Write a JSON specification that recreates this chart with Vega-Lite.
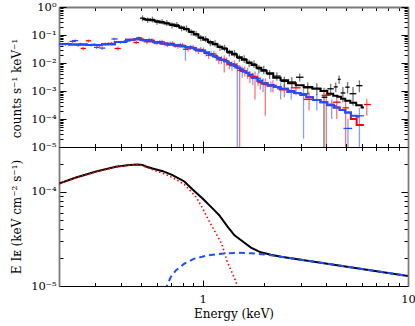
{
"$schema":"https://vega.github.io/schema/vega-lite/v6.json",
"padding":{"left":9,"top":1,"right":8,"bottom":12},
"config":{"view":{"stroke":null},"axis":{"grid":false,"labelFont":"DejaVu Serif","titleFont":"DejaVu Serif","labelFontSize":11.5,"titleFontSize":12,"titleFontWeight":"normal","labelColor":"#000","titleColor":"#000","labelFlush":false,"labelOverlap":false,"labelBound":false,"tickColor":"#000","tickWidth":1,"domainColor":"#7a7a7a","domainWidth":1.8}},
"datasets":{
"obs":[
{"s":"k","e":0.51,"el":0.496,"eh":0.524,"v":0.40,"vl":0.31,"vh":0.50},
{"s":"k","e":0.54,"el":0.525,"eh":0.555,"v":0.34,"vl":0.27,"vh":0.42},
{"s":"k","e":0.57,"el":0.555,"eh":0.585,"v":0.36,"vl":0.28,"vh":0.45},
{"s":"k","e":0.60,"el":0.585,"eh":0.617,"v":0.29,"vl":0.23,"vh":0.36},
{"s":"k","e":0.635,"el":0.617,"eh":0.652,"v":0.30,"vl":0.24,"vh":0.37},
{"s":"k","e":0.67,"el":0.652,"eh":0.69,"v":0.27,"vl":0.21,"vh":0.34},
{"s":"k","e":0.71,"el":0.69,"eh":0.73,"v":0.22,"vl":0.17,"vh":0.28},
{"s":"k","e":0.75,"el":0.73,"eh":0.77,"v":0.23,"vl":0.18,"vh":0.29},
{"s":"k","e":0.79,"el":0.77,"eh":0.812,"v":0.175,"vl":0.135,"vh":0.22},
{"s":"k","e":0.835,"el":0.812,"eh":0.857,"v":0.17,"vl":0.13,"vh":0.22},
{"s":"k","e":0.88,"el":0.857,"eh":0.905,"v":0.125,"vl":0.095,"vh":0.16},
{"s":"k","e":0.93,"el":0.905,"eh":0.955,"v":0.11,"vl":0.085,"vh":0.14},
{"s":"k","e":0.98,"el":0.955,"eh":1.007,"v":0.078,"vl":0.060,"vh":0.10},
{"s":"k","e":1.035,"el":1.007,"eh":1.062,"v":0.072,"vl":0.055,"vh":0.092},
{"s":"k","e":1.09,"el":1.062,"eh":1.12,"v":0.052,"vl":0.040,"vh":0.067},
{"s":"k","e":1.15,"el":1.12,"eh":1.182,"v":0.050,"vl":0.038,"vh":0.065},
{"s":"k","e":1.215,"el":1.182,"eh":1.247,"v":0.036,"vl":0.027,"vh":0.047},
{"s":"k","e":1.28,"el":1.247,"eh":1.315,"v":0.034,"vl":0.026,"vh":0.045},
{"s":"k","e":1.35,"el":1.315,"eh":1.39,"v":0.023,"vl":0.017,"vh":0.030},
{"s":"k","e":1.43,"el":1.39,"eh":1.47,"v":0.022,"vl":0.016,"vh":0.029},
{"s":"k","e":1.51,"el":1.47,"eh":1.552,"v":0.015,"vl":0.011,"vh":0.020},
{"s":"k","e":1.595,"el":1.552,"eh":1.64,"v":0.014,"vl":0.010,"vh":0.019},
{"s":"k","e":1.685,"el":1.64,"eh":1.732,"v":0.0098,"vl":0.0070,"vh":0.013},
{"s":"k","e":1.78,"el":1.732,"eh":1.83,"v":0.0092,"vl":0.0066,"vh":0.0125},
{"s":"k","e":1.88,"el":1.83,"eh":1.932,"v":0.0062,"vl":0.0043,"vh":0.0085},
{"s":"k","e":1.985,"el":1.932,"eh":2.05,"v":0.0058,"vl":0.0040,"vh":0.0080},
{"s":"k","e":2.12,"el":2.05,"eh":2.2,"v":0.0040,"vl":0.0027,"vh":0.0056},
{"s":"k","e":2.3,"el":2.2,"eh":2.4,"v":0.0034,"vl":0.0023,"vh":0.0047},
{"s":"k","e":2.5,"el":2.4,"eh":2.6,"v":0.0022,"vl":0.0014,"vh":0.0032},
{"s":"k","e":2.72,"el":2.6,"eh":2.85,"v":0.0021,"vl":0.0013,"vh":0.0031},
{"s":"k","e":2.97,"el":2.85,"eh":3.1,"v":0.0031,"vl":0.0022,"vh":0.0042},
{"s":"k","e":3.25,"el":3.1,"eh":3.4,"v":0.0013,"vl":0.0008,"vh":0.0020},
{"s":"k","e":3.6,"el":3.4,"eh":3.8,"v":0.0012,"vl":0.0007,"vh":0.0019},
{"s":"k","e":3.9,"el":3.8,"eh":4.05,"v":0.0006,"vl":0.000005,"vh":0.0013},
{"s":"k","e":4.2,"el":4.05,"eh":4.35,"v":0.0012,"vl":0.0007,"vh":0.0018},
{"s":"k","e":4.45,"el":4.35,"eh":4.55,"v":0.0014,"vl":0.0009,"vh":0.0020},
{"s":"k","e":4.62,"el":4.55,"eh":4.7,"v":0.0026,"vl":0.0018,"vh":0.0036},
{"s":"k","e":4.82,"el":4.7,"eh":4.95,"v":0.00085,"vl":0.0004,"vh":0.0014},
{"s":"k","e":5.08,"el":4.95,"eh":5.2,"v":0.00137,"vl":0.0008,"vh":0.0021},
{"s":"k","e":5.4,"el":5.2,"eh":5.6,"v":0.0008,"vl":0.0003,"vh":0.0014},
{"s":"k","e":5.8,"el":5.6,"eh":6.0,"v":0.00155,"vl":0.0009,"vh":0.0024},
{"s":"r","e":0.215,"el":0.205,"eh":0.225,"v":0.047,"vl":0.041,"vh":0.053},
{"s":"r","e":0.233,"el":0.225,"eh":0.241,"v":0.059,"vl":0.052,"vh":0.067},
{"s":"r","e":0.248,"el":0.241,"eh":0.255,"v":0.044,"vl":0.038,"vh":0.050},
{"s":"r","e":0.262,"el":0.255,"eh":0.27,"v":0.033,"vl":0.028,"vh":0.038},
{"s":"r","e":0.278,"el":0.27,"eh":0.287,"v":0.062,"vl":0.054,"vh":0.070},
{"s":"r","e":0.296,"el":0.287,"eh":0.305,"v":0.046,"vl":0.040,"vh":0.052},
{"s":"r","e":0.315,"el":0.305,"eh":0.325,"v":0.042,"vl":0.036,"vh":0.048},
{"s":"r","e":0.336,"el":0.325,"eh":0.347,"v":0.047,"vl":0.041,"vh":0.054},
{"s":"r","e":0.36,"el":0.347,"eh":0.373,"v":0.050,"vl":0.043,"vh":0.057},
{"s":"r","e":0.387,"el":0.373,"eh":0.40,"v":0.033,"vl":0.028,"vh":0.039},
{"s":"r","e":0.415,"el":0.40,"eh":0.43,"v":0.058,"vl":0.050,"vh":0.066},
{"s":"r","e":0.445,"el":0.43,"eh":0.46,"v":0.066,"vl":0.058,"vh":0.075},
{"s":"r","e":0.475,"el":0.46,"eh":0.49,"v":0.054,"vl":0.047,"vh":0.062},
{"s":"r","e":0.505,"el":0.49,"eh":0.52,"v":0.072,"vl":0.060,"vh":0.085},
{"s":"r","e":0.535,"el":0.52,"eh":0.551,"v":0.058,"vl":0.048,"vh":0.069},
{"s":"r","e":0.567,"el":0.551,"eh":0.584,"v":0.066,"vl":0.055,"vh":0.078},
{"s":"r","e":0.60,"el":0.584,"eh":0.618,"v":0.052,"vl":0.043,"vh":0.062},
{"s":"r","e":0.636,"el":0.618,"eh":0.655,"v":0.057,"vl":0.047,"vh":0.068},
{"s":"r","e":0.674,"el":0.655,"eh":0.694,"v":0.045,"vl":0.037,"vh":0.054},
{"s":"r","e":0.714,"el":0.694,"eh":0.735,"v":0.050,"vl":0.041,"vh":0.060},
{"s":"r","e":0.757,"el":0.735,"eh":0.779,"v":0.040,"vl":0.032,"vh":0.049},
{"s":"r","e":0.80,"el":0.779,"eh":0.825,"v":0.043,"vl":0.035,"vh":0.052},
{"s":"r","e":0.85,"el":0.825,"eh":0.875,"v":0.032,"vl":0.025,"vh":0.040},
{"s":"r","e":0.90,"el":0.875,"eh":0.927,"v":0.036,"vl":0.029,"vh":0.044},
{"s":"r","e":0.955,"el":0.927,"eh":0.983,"v":0.027,"vl":0.021,"vh":0.034},
{"s":"r","e":1.01,"el":0.983,"eh":1.04,"v":0.029,"vl":0.023,"vh":0.036},
{"s":"r","e":1.07,"el":1.04,"eh":1.102,"v":0.019,"vl":0.014,"vh":0.025},
{"s":"r","e":1.135,"el":1.102,"eh":1.168,"v":0.021,"vl":0.016,"vh":0.027},
{"s":"r","e":1.20,"el":1.168,"eh":1.237,"v":0.013,"vl":0.009,"vh":0.018},
{"s":"r","e":1.275,"el":1.237,"eh":1.312,"v":0.0135,"vl":0.0046,"vh":0.019},
{"s":"r","e":1.35,"el":1.312,"eh":1.39,"v":0.0088,"vl":0.006,"vh":0.012},
{"s":"r","e":1.43,"el":1.39,"eh":1.472,"v":0.0090,"vl":0.0062,"vh":0.0125},
{"s":"r","e":1.515,"el":1.472,"eh":1.56,"v":0.0055,"vl":0.000005,"vh":0.0085},
{"s":"r","e":1.605,"el":1.56,"eh":1.652,"v":0.0052,"vl":0.0032,"vh":0.0075},
{"s":"r","e":1.70,"el":1.652,"eh":1.75,"v":0.0034,"vl":0.0019,"vh":0.0052},
{"s":"r","e":1.80,"el":1.75,"eh":1.855,"v":0.0033,"vl":0.0005,"vh":0.0050},
{"s":"r","e":1.91,"el":1.855,"eh":1.965,"v":0.0020,"vl":0.0011,"vh":0.0031},
{"s":"r","e":2.02,"el":1.965,"eh":2.08,"v":0.0017,"vl":0.00013,"vh":0.0028},
{"s":"r","e":2.2,"el":2.1,"eh":2.3,"v":0.0016,"vl":0.0009,"vh":0.0024},
{"s":"r","e":2.5,"el":2.35,"eh":2.65,"v":0.0011,"vl":0.0006,"vh":0.0017},
{"s":"r","e":2.85,"el":2.7,"eh":3.0,"v":0.0013,"vl":0.0007,"vh":0.0020},
{"s":"r","e":3.3,"el":3.1,"eh":3.5,"v":0.0005,"vl":0.0002,"vh":0.0009},
{"s":"r","e":4.0,"el":3.8,"eh":4.2,"v":0.0007,"vl":0.000005,"vh":0.0012},
{"s":"r","e":4.5,"el":4.3,"eh":4.7,"v":0.0004,"vl":0.0001,"vh":0.0007},
{"s":"r","e":4.97,"el":4.8,"eh":5.15,"v":0.00025,"vl":0.000005,"vh":0.00045},
{"s":"r","e":6.3,"el":6.1,"eh":6.6,"v":0.00033,"vl":0.00013,"vh":0.00053},
{"s":"x","e":0.207,"el":0.2,"eh":0.214,"v":0.046,"vl":0.041,"vh":0.052},
{"s":"x","e":0.222,"el":0.214,"eh":0.231,"v":0.049,"vl":0.043,"vh":0.055},
{"s":"x","e":0.240,"el":0.231,"eh":0.248,"v":0.063,"vl":0.056,"vh":0.071},
{"s":"x","e":0.255,"el":0.248,"eh":0.263,"v":0.047,"vl":0.041,"vh":0.053},
{"s":"x","e":0.27,"el":0.263,"eh":0.278,"v":0.045,"vl":0.040,"vh":0.051},
{"s":"x","e":0.287,"el":0.278,"eh":0.296,"v":0.043,"vl":0.038,"vh":0.049},
{"s":"x","e":0.305,"el":0.296,"eh":0.315,"v":0.036,"vl":0.031,"vh":0.041},
{"s":"x","e":0.325,"el":0.315,"eh":0.336,"v":0.034,"vl":0.029,"vh":0.039},
{"s":"x","e":0.347,"el":0.336,"eh":0.36,"v":0.048,"vl":0.042,"vh":0.055},
{"s":"x","e":0.372,"el":0.36,"eh":0.386,"v":0.072,"vl":0.064,"vh":0.081},
{"s":"x","e":0.40,"el":0.386,"eh":0.415,"v":0.055,"vl":0.048,"vh":0.062},
{"s":"x","e":0.43,"el":0.415,"eh":0.445,"v":0.061,"vl":0.054,"vh":0.069},
{"s":"x","e":0.46,"el":0.445,"eh":0.475,"v":0.068,"vl":0.060,"vh":0.077},
{"s":"x","e":0.49,"el":0.475,"eh":0.505,"v":0.080,"vl":0.071,"vh":0.090},
{"s":"x","e":0.52,"el":0.505,"eh":0.535,"v":0.062,"vl":0.053,"vh":0.072},
{"s":"x","e":0.55,"el":0.535,"eh":0.567,"v":0.068,"vl":0.058,"vh":0.079},
{"s":"x","e":0.585,"el":0.567,"eh":0.602,"v":0.054,"vl":0.046,"vh":0.063},
{"s":"x","e":0.62,"el":0.602,"eh":0.638,"v":0.058,"vl":0.049,"vh":0.068},
{"s":"x","e":0.655,"el":0.638,"eh":0.674,"v":0.048,"vl":0.040,"vh":0.057},
{"s":"x","e":0.695,"el":0.674,"eh":0.715,"v":0.050,"vl":0.042,"vh":0.059},
{"s":"x","e":0.735,"el":0.715,"eh":0.757,"v":0.041,"vl":0.034,"vh":0.049},
{"s":"x","e":0.78,"el":0.757,"eh":0.802,"v":0.044,"vl":0.036,"vh":0.053},
{"s":"x","e":0.825,"el":0.802,"eh":0.85,"v":0.031,"vl":0.012,"vh":0.040},
{"s":"x","e":0.875,"el":0.85,"eh":0.9,"v":0.037,"vl":0.030,"vh":0.045},
{"s":"x","e":0.925,"el":0.9,"eh":0.952,"v":0.030,"vl":0.024,"vh":0.037},
{"s":"x","e":0.98,"el":0.952,"eh":1.01,"v":0.030,"vl":0.024,"vh":0.037},
{"s":"x","e":1.04,"el":1.01,"eh":1.07,"v":0.022,"vl":0.017,"vh":0.028},
{"s":"x","e":1.10,"el":1.07,"eh":1.132,"v":0.021,"vl":0.016,"vh":0.027},
{"s":"x","e":1.165,"el":1.132,"eh":1.2,"v":0.016,"vl":0.012,"vh":0.021},
{"s":"x","e":1.235,"el":1.2,"eh":1.27,"v":0.013,"vl":0.009,"vh":0.018},
{"s":"x","e":1.31,"el":1.27,"eh":1.35,"v":0.0115,"vl":0.008,"vh":0.016},
{"s":"x","e":1.39,"el":1.35,"eh":1.432,"v":0.0080,"vl":0.0053,"vh":0.0115},
{"s":"x","e":1.475,"el":1.432,"eh":1.518,"v":0.0068,"vl":0.000005,"vh":0.010},
{"s":"x","e":1.56,"el":1.518,"eh":1.607,"v":0.0050,"vl":0.0030,"vh":0.0074},
{"s":"x","e":1.655,"el":1.607,"eh":1.705,"v":0.0046,"vl":0.0027,"vh":0.0068},
{"s":"x","e":1.755,"el":1.705,"eh":1.807,"v":0.0030,"vl":0.0016,"vh":0.0046},
{"s":"x","e":1.86,"el":1.807,"eh":1.915,"v":0.0028,"vl":0.0015,"vh":0.0043},
{"s":"x","e":1.97,"el":1.915,"eh":2.03,"v":0.0018,"vl":0.0009,"vh":0.0029},
{"s":"x","e":2.15,"el":2.05,"eh":2.25,"v":0.0015,"vl":0.0009,"vh":0.0022},
{"s":"x","e":2.4,"el":2.3,"eh":2.5,"v":0.0012,"vl":0.0005,"vh":0.0020},
{"s":"x","e":2.7,"el":2.55,"eh":2.85,"v":0.0009,"vl":0.0005,"vh":0.0014},
{"s":"x","e":3.1,"el":2.9,"eh":3.3,"v":0.0008,"vl":0.00002,"vh":0.0016},
{"s":"x","e":3.6,"el":3.4,"eh":3.8,"v":0.00048,"vl":0.0002,"vh":0.0008},
{"s":"x","e":4.25,"el":4.0,"eh":4.5,"v":0.00030,"vl":0.0001,"vh":0.0005},
{"s":"x","e":5.1,"el":4.85,"eh":5.35,"v":0.000046,"vl":0.000005,"vh":0.0001},
{"s":"x","e":5.8,"el":5.5,"eh":6.1,"v":0.00013,"vl":0.000005,"vh":0.00025}
],
"mod":[
{"s":"k","e":0.51,"m":0.37},{"s":"k","e":0.54,"m":0.355},{"s":"k","e":0.57,"m":0.335},{"s":"k","e":0.60,"m":0.31},{"s":"k","e":0.635,"m":0.28},{"s":"k","e":0.67,"m":0.26},{"s":"k","e":0.71,"m":0.235},{"s":"k","e":0.75,"m":0.21},{"s":"k","e":0.79,"m":0.187},{"s":"k","e":0.835,"m":0.16},{"s":"k","e":0.88,"m":0.13},{"s":"k","e":0.93,"m":0.105},{"s":"k","e":0.98,"m":0.082},{"s":"k","e":1.035,"m":0.068},{"s":"k","e":1.09,"m":0.056},{"s":"k","e":1.15,"m":0.047},{"s":"k","e":1.215,"m":0.038},{"s":"k","e":1.28,"m":0.032},{"s":"k","e":1.35,"m":0.025},{"s":"k","e":1.43,"m":0.020},{"s":"k","e":1.51,"m":0.016},{"s":"k","e":1.595,"m":0.013},{"s":"k","e":1.685,"m":0.0105},{"s":"k","e":1.78,"m":0.0085},{"s":"k","e":1.88,"m":0.0068},{"s":"k","e":1.985,"m":0.0053},{"s":"k","e":2.12,"m":0.0043},{"s":"k","e":2.3,"m":0.0030},{"s":"k","e":2.5,"m":0.0024},{"s":"k","e":2.72,"m":0.0019},{"s":"k","e":2.97,"m":0.0016},{"s":"k","e":3.25,"m":0.0014},{"s":"k","e":3.6,"m":0.00122},{"s":"k","e":3.9,"m":0.0010},{"s":"k","e":4.2,"m":0.0008},{"s":"k","e":4.45,"m":0.00068},{"s":"k","e":4.62,"m":0.00062},{"s":"k","e":4.82,"m":0.00053},{"s":"k","e":5.08,"m":0.00045},{"s":"k","e":5.4,"m":0.00038},{"s":"k","e":5.8,"m":0.00031},{"s":"k","e":6.1,"m":0.00026},
{"s":"r","e":0.2,"m":0.048},{"s":"r","e":0.25,"m":0.046},{"s":"r","e":0.3,"m":0.044},{"s":"r","e":0.35,"m":0.047},{"s":"r","e":0.4,"m":0.056},{"s":"r","e":0.45,"m":0.068},{"s":"r","e":0.48,"m":0.071},{"s":"r","e":0.52,"m":0.066},{"s":"r","e":0.56,"m":0.060},{"s":"r","e":0.6,"m":0.055},{"s":"r","e":0.65,"m":0.050},{"s":"r","e":0.7,"m":0.046},{"s":"r","e":0.75,"m":0.043},{"s":"r","e":0.8,"m":0.040},{"s":"r","e":0.85,"m":0.037},{"s":"r","e":0.9,"m":0.034},{"s":"r","e":0.95,"m":0.030},{"s":"r","e":1.0,"m":0.027},{"s":"r","e":1.05,"m":0.0235},{"s":"r","e":1.1,"m":0.020},{"s":"r","e":1.15,"m":0.0175},{"s":"r","e":1.2,"m":0.015},{"s":"r","e":1.25,"m":0.013},{"s":"r","e":1.3,"m":0.0115},{"s":"r","e":1.35,"m":0.010},{"s":"r","e":1.4,"m":0.0088},{"s":"r","e":1.45,"m":0.0078},{"s":"r","e":1.5,"m":0.0068},{"s":"r","e":1.55,"m":0.0058},{"s":"r","e":1.6,"m":0.005},{"s":"r","e":1.65,"m":0.0044},{"s":"r","e":1.7,"m":0.0038},{"s":"r","e":1.8,"m":0.0029},{"s":"r","e":1.9,"m":0.0023},{"s":"r","e":2.0,"m":0.0019},{"s":"r","e":2.15,"m":0.0016},{"s":"r","e":2.3,"m":0.0014},{"s":"r","e":2.5,"m":0.0012},{"s":"r","e":2.7,"m":0.001},{"s":"r","e":2.9,"m":0.00085},{"s":"r","e":3.1,"m":0.00072},{"s":"r","e":3.3,"m":0.0006},{"s":"r","e":3.6,"m":0.00048},{"s":"r","e":3.9,"m":0.0004},{"s":"r","e":4.2,"m":0.00032},{"s":"r","e":4.5,"m":0.00026},{"s":"r","e":4.8,"m":0.00021},{"s":"r","e":5.1,"m":0.00017},{"s":"r","e":5.45,"m":0.0001},{"s":"r","e":5.8,"m":0.000061},{"s":"r","e":6.1,"m":0.000061},
{"s":"x","e":0.2,"m":0.048},{"s":"x","e":0.25,"m":0.046},{"s":"x","e":0.3,"m":0.044},{"s":"x","e":0.35,"m":0.047},{"s":"x","e":0.4,"m":0.056},{"s":"x","e":0.45,"m":0.068},{"s":"x","e":0.48,"m":0.071},{"s":"x","e":0.52,"m":0.066},{"s":"x","e":0.56,"m":0.060},{"s":"x","e":0.6,"m":0.055},{"s":"x","e":0.65,"m":0.050},{"s":"x","e":0.7,"m":0.046},{"s":"x","e":0.75,"m":0.043},{"s":"x","e":0.8,"m":0.040},{"s":"x","e":0.85,"m":0.037},{"s":"x","e":0.9,"m":0.034},{"s":"x","e":0.95,"m":0.030},{"s":"x","e":1.0,"m":0.027},{"s":"x","e":1.05,"m":0.0235},{"s":"x","e":1.1,"m":0.020},{"s":"x","e":1.15,"m":0.0175},{"s":"x","e":1.2,"m":0.015},{"s":"x","e":1.25,"m":0.013},{"s":"x","e":1.3,"m":0.0115},{"s":"x","e":1.35,"m":0.010},{"s":"x","e":1.4,"m":0.0088},{"s":"x","e":1.45,"m":0.0078},{"s":"x","e":1.5,"m":0.0068},{"s":"x","e":1.55,"m":0.0058},{"s":"x","e":1.6,"m":0.005},{"s":"x","e":1.65,"m":0.0044},{"s":"x","e":1.7,"m":0.0038},{"s":"x","e":1.8,"m":0.0029},{"s":"x","e":1.9,"m":0.0023},{"s":"x","e":2.0,"m":0.0019},{"s":"x","e":2.15,"m":0.0016},{"s":"x","e":2.3,"m":0.0014},{"s":"x","e":2.5,"m":0.0012},{"s":"x","e":2.7,"m":0.001},{"s":"x","e":2.9,"m":0.00085},{"s":"x","e":3.1,"m":0.00072},{"s":"x","e":3.3,"m":0.0006},{"s":"x","e":3.6,"m":0.00048},{"s":"x","e":3.9,"m":0.0004},{"s":"x","e":4.2,"m":0.00032},{"s":"x","e":4.5,"m":0.00026},{"s":"x","e":4.8,"m":0.00021},{"s":"x","e":5.1,"m":0.00017},{"s":"x","e":5.45,"m":0.00013},{"s":"x","e":5.8,"m":0.00012}
],
"tot":[{"e":0.2,"f":0.000123},{"e":0.242,"f":0.000142},{"e":0.303,"f":0.000165},{"e":0.378,"f":0.000185},{"e":0.44,"f":0.000193},{"e":0.483,"f":0.000196},{"e":0.51,"f":0.000193},{"e":0.53,"f":0.000186},{"e":0.571,"f":0.000177},{"e":0.64,"f":0.000166},{"e":0.714,"f":0.000151},{"e":0.815,"f":0.000129},{"e":0.9,"f":0.000105},{"e":1.0,"f":0.000085},{"e":1.14,"f":0.000064},{"e":1.205,"f":0.0000565},{"e":1.32,"f":0.000043},{"e":1.43,"f":0.0000346},{"e":1.54,"f":0.0000306},{"e":1.72,"f":0.0000256},{"e":1.92,"f":0.0000228},{"e":2.15,"f":0.0000215},{"e":2.41,"f":0.0000205},{"e":10,"f":0.0000128}],
"bb":[{"e":0.2,"f":0.000122},{"e":0.242,"f":0.000141},{"e":0.303,"f":0.000164},{"e":0.378,"f":0.000184},{"e":0.44,"f":0.000192},{"e":0.483,"f":0.000195},{"e":0.51,"f":0.00019},{"e":0.571,"f":0.000172},{"e":0.64,"f":0.000158},{"e":0.714,"f":0.000142},{"e":0.815,"f":0.00012},{"e":0.929,"f":0.0000885},{"e":1.0,"f":0.000067},{"e":1.07,"f":0.00005},{"e":1.24,"f":0.000028},{"e":1.32,"f":0.000018},{"e":1.4,"f":0.0000135},{"e":1.48,"f":0.00001},{"e":1.55,"f":0.0000075}],
"pl":[{"e":0.655,"f":0.000009},{"e":0.701,"f":0.0000125},{"e":0.743,"f":0.0000147},{"e":0.815,"f":0.0000173},{"e":0.91,"f":0.0000195},{"e":1.06,"f":0.0000212},{"e":1.27,"f":0.0000222},{"e":1.5,"f":0.0000225},{"e":1.72,"f":0.0000223},{"e":2.07,"f":0.0000215},{"e":2.41,"f":0.0000205},{"e":10,"f":0.0000128}]
},
"spacing":0,
"bounds":"flush",
"vconcat":[
{"width":349,"height":140,
"layer":[
{"data":{"name":"obs"},"mark":{"type":"rule","clip":true,"strokeWidth":1.3,"opacity":0.55},
"encoding":{
"x":{"field":"e","type":"quantitative","scale":{"type":"log","domain":[0.2,10],"nice":false},"axis":{"orient":"bottom","values":[0.2,0.3,0.4,0.5,0.6,0.7,0.8,0.9,1,2,3,4,5,6,7,8,9,10],"labels":false,"title":null,"domainColor":"#000","domainWidth":1.2,"tickSize":{"condition":{"test":"datum.value==1||datum.value==10","value":-6},"value":-3.5}}},
"y":{"field":"vl","type":"quantitative","scale":{"type":"log","domain":[0.00001,1],"nice":false},"axis":{"orient":"left","values":[0.00001,0.00002,0.00003,0.00004,0.00005,0.00006,0.00007,0.00008,0.00009,0.0001,0.0002,0.0003,0.0004,0.0005,0.0006,0.0007,0.0008,0.0009,0.001,0.002,0.003,0.004,0.005,0.006,0.007,0.008,0.009,0.01,0.02,0.03,0.04,0.05,0.06,0.07,0.08,0.09,0.1,0.2,0.3,0.4,0.5,0.6,0.7,0.8,0.9,1],"labelExpr":"datum.value==1?'10⁰':datum.value==0.1?'10⁻¹':datum.value==0.01?'10⁻²':datum.value==0.001?'10⁻³':datum.value==0.0001?'10⁻⁴':datum.value==0.00001?'10⁻⁵':''","labelPadding":10,"tickSize":{"condition":{"test":"indexof([1,0.1,0.01,0.001,0.0001,0.00001],datum.value)>=0","value":-7},"value":-4},"title":"counts s⁻¹ keV⁻¹","titleX":-43,"titleY":81,"titleAlign":"center","titleBaseline":"middle"}},
"y2":{"field":"vh"},
"color":{"field":"s","type":"nominal","scale":{"domain":["k","r","x"],"range":["#000000","#ff0000","#1f4fff"]},"legend":null}}},
{"data":{"name":"obs"},"mark":{"type":"rule","clip":true,"strokeWidth":1.3},
"encoding":{
"x":{"field":"el","type":"quantitative","axis":null},
"x2":{"field":"eh"},
"y":{"field":"v","type":"quantitative","axis":null},
"color":{"field":"s","type":"nominal","legend":null}}},
{"data":{"name":"mod"},"mark":{"type":"line","clip":true,"strokeWidth":2,"interpolate":"step"},
"encoding":{
"x":{"field":"e","type":"quantitative","axis":{"orient":"top","values":[0.2,0.3,0.4,0.5,0.6,0.7,0.8,0.9,1,2,3,4,5,6,7,8,9,10],"labels":false,"title":null,"tickSize":{"condition":{"test":"datum.value==1||datum.value==10","value":-6},"value":-3.5}}},
"y":{"field":"m","type":"quantitative","axis":{"orient":"right","values":[0.00001,0.00002,0.00003,0.00004,0.00005,0.00006,0.00007,0.00008,0.00009,0.0001,0.0002,0.0003,0.0004,0.0005,0.0006,0.0007,0.0008,0.0009,0.001,0.002,0.003,0.004,0.005,0.006,0.007,0.008,0.009,0.01,0.02,0.03,0.04,0.05,0.06,0.07,0.08,0.09,0.1,0.2,0.3,0.4,0.5,0.6,0.7,0.8,0.9,1],"labels":false,"title":null,"tickSize":{"condition":{"test":"indexof([1,0.1,0.01,0.001,0.0001,0.00001],datum.value)>=0","value":-7},"value":-4}}},
"color":{"field":"s","type":"nominal","legend":null}}}
],
"resolve":{"axis":{"x":"independent","y":"independent"}}},
{"width":349,"height":139,
"layer":[
{"data":{"name":"tot"},"mark":{"type":"line","clip":true,"color":"#000000","strokeWidth":2},
"encoding":{
"x":{"field":"e","type":"quantitative","scale":{"type":"log","domain":[0.2,10],"nice":false},"axis":{"orient":"bottom","values":[0.2,0.3,0.4,0.5,0.6,0.7,0.8,0.9,1,2,3,4,5,6,7,8,9,10],"labelExpr":"datum.value==1?'1':datum.value==10?'10':''","labelPadding":13,"title":"Energy (keV)","titleY":27,"titleBaseline":"middle","domainColor":"#000","domainWidth":1.2,"tickSize":{"condition":{"test":"datum.value==1||datum.value==10","value":-6},"value":-3.5}}},
"y":{"field":"f","type":"quantitative","scale":{"type":"log","domain":[0.00001,0.0003],"nice":false},"axis":{"orient":"left","values":[0.00001,0.00002,0.00003,0.00004,0.00005,0.00006,0.00007,0.00008,0.00009,0.0001,0.0002,0.0003],"labelExpr":"datum.value==0.0001?'10⁻⁴':datum.value==0.00001?'10⁻⁵':''","labelPadding":10,"tickSize":{"condition":{"test":"datum.value==0.0001||datum.value==0.00001","value":-7},"value":-4},"title":"E Iᴇ (keV cm⁻² s⁻¹)","titleX":-43,"titleBaseline":"middle"}}}},
{"data":{"name":"bb"},"mark":{"type":"line","clip":true,"color":"#ff0000","strokeWidth":1.6,"strokeDash":[1.5,2.5]},
"encoding":{
"x":{"field":"e","type":"quantitative","axis":null},
"y":{"field":"f","type":"quantitative","axis":null}}},
{"data":{"name":"pl"},"mark":{"type":"line","clip":true,"color":"#1f4fff","strokeWidth":2,"strokeDash":[6,4]},
"encoding":{
"x":{"field":"e","type":"quantitative","axis":{"orient":"top","values":[0.2,0.3,0.4,0.5,0.6,0.7,0.8,0.9,1,2,3,4,5,6,7,8,9,10],"labels":false,"title":null,"domainColor":"#000","domainWidth":1.2,"tickSize":{"condition":{"test":"datum.value==1||datum.value==10","value":-6},"value":-3.5}}},
"y":{"field":"f","type":"quantitative","axis":{"orient":"right","values":[0.00001,0.00002,0.00003,0.00004,0.00005,0.00006,0.00007,0.00008,0.00009,0.0001,0.0002,0.0003],"labels":false,"title":null,"tickSize":{"condition":{"test":"datum.value==0.0001||datum.value==0.00001","value":-7},"value":-4}}}}}
],
"resolve":{"axis":{"x":"independent","y":"independent"}}}
]
}
